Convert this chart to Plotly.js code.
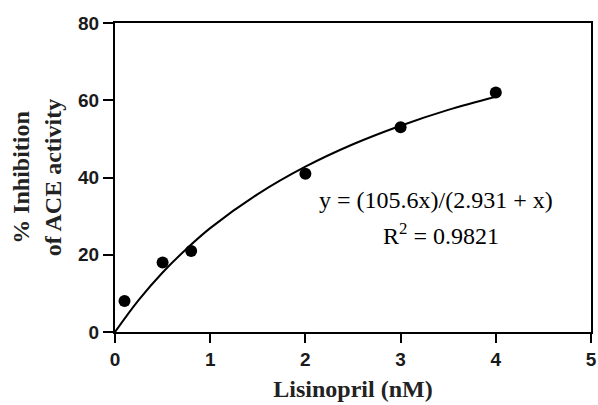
<!DOCTYPE html>
<html>
<head>
<meta charset="utf-8">
<script src="https://cdn.plot.ly/plotly-3.0.1.min.js"></script>
<style>
html,body{margin:0;padding:0;background:#fff;}
#chart{width:598px;height:405px;}
</style>
</head>
<body>
<div id="chart"></div>
<script>
// Measured data points
var concX = [0.1, 0.5, 0.8, 2, 3, 4];
var inhibY = [8, 18, 21, 41, 53, 62];

// Fitted curve
var curveX = [0, 0.25, 0.5, 0.75, 1, 1.5, 2, 2.5, 3, 3.5, 4];
var curveY = [0, 8.3, 15.4, 21.5, 26.9, 35.7, 42.8, 48.6, 53.4, 57.5, 60.9];

var xTicks = [0, 1, 2, 3, 4, 5];
var yTicks = [0, 20, 40, 60, 80];

var xTitle = "<b>Lisinopril (nM)</b>";
var yTitle = "<b>% Inhibition</b><br><b>of ACE activity</b>";
var equationText = "y = (105.6x)/(2.931 + x)";
var r2Text = "R<sup>2</sup> = 0.9821";

var traces = [
  {
    x: curveX, y: curveY, type: 'scatter', mode: 'lines',
    line: {color: '#000', width: 2, shape: 'spline'},
    hoverinfo: 'skip', showlegend: false
  },
  {
    x: concX, y: inhibY, type: 'scatter', mode: 'markers',
    marker: {color: '#000', size: 12},
    showlegend: false
  }
];

var serif = "Liberation Serif";
var sans = "Liberation Sans";

var layout = {
  width: 598, height: 405,
  margin: {l: 115, r: 7, t: 23, b: 73},
  paper_bgcolor: '#fff', plot_bgcolor: '#fff',
  showlegend: false,
  font: {family: serif, color: '#000'},
  xaxis: {
    range: [0, 5], tickvals: xTicks, ticktext: xTicks.map(String),
    showgrid: false, zeroline: false,
    showline: true, linecolor: '#000', linewidth: 2, mirror: true,
    ticks: 'outside', ticklen: 9, tickwidth: 2, tickcolor: '#000',
    tickfont: {family: sans, size: 19, color: '#1a1a1a', weight: 'bold'},
    title: {text: xTitle, font: {family: serif, size: 24, color: '#222'}, standoff: 11}
  },
  yaxis: {
    range: [0, 80], tickvals: yTicks, ticktext: yTicks.map(String),
    showgrid: false, zeroline: false,
    showline: true, linecolor: '#000', linewidth: 2, mirror: true,
    ticks: 'outside', ticklen: 10, tickwidth: 2, tickcolor: '#000',
    tickfont: {family: sans, size: 19, color: '#1a1a1a', weight: 'bold'},
    title: {text: yTitle, font: {family: serif, size: 24, color: '#222'}, standoff: 10}
  },
  annotations: [
    {x: 3.37, y: 34.2, xref: 'x', yref: 'y', text: equationText, showarrow: false,
     font: {family: serif, size: 24, color: '#000'}},
    {x: 3.42, y: 25.4, xref: 'x', yref: 'y', text: r2Text, showarrow: false,
     font: {family: serif, size: 24, color: '#000'}}
  ]
};

Plotly.newPlot('chart', traces, layout, {displayModeBar: false, staticPlot: true});
</script>
</body>
</html>
